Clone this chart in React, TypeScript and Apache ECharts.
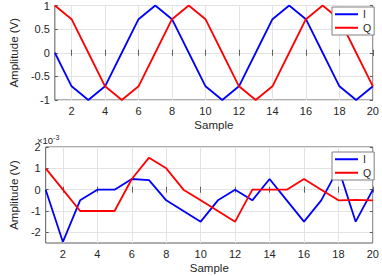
import React, { useEffect, useRef } from "react";
import * as echarts from "echarts";

// Sample index (x axis)
const samples = ["1", "2", "3", "4", "5", "6", "7", "8", "9", "10", "11", "12", "13", "14", "15", "16", "17", "18", "19", "20"];

// Top plot: I / Q amplitude (V)
const topI = [0, -0.71, -1, -0.71, 0, 0.71, 1, 0.71, 0, -0.71, -1, -0.71, 0, 0.71, 1, 0.71, 0, -0.71, -1, -0.71];
const topQ = [1, 0.71, 0, -0.71, -1, -0.71, 0, 0.71, 1, 0.71, 0, -0.71, -1, -0.71, 0, 0.71, 1, 0.71, 0, -0.71];

// Bottom plot: I / Q amplitude in units of 1e-3 V
const bottomI = [0, -2.45, -0.5, 0, 0, 0.5, 0.45, -0.5, -1, -1.5, -0.5, 0, -0.5, 0.5, -0.5, -1.5, -0.5, 1, -1.5, 0];
const bottomQ = [1, 0, -1, -1, -1, 0.5, 1.5, 1, 0, -0.5, -1, -1.5, 0, 0, 0, 0.5, 0, -0.5, -0.48, -0.5];

const topYTicks = [-1, -0.5, 0, 0.5, 1];
const bottomYTicks = [-2, -1, 0, 1, 2];
const legendNames = ["I", "Q"];

const FONT = "'Liberation Sans', Arial, Helvetica, sans-serif";
const TEXT = "#262626";
const GRIDLINE = "#e3e3e3";
const BOX = "#5a5a5a";
const BLUE = "#0000ff";
const RED = "#ff0000";

const evenTick = (idx: number) => idx % 2 === 1;

function xAxes(gridIndex: number) {
  return [
    {
      type: "category",
      gridIndex,
      data: samples,
      boundaryGap: false,
      axisLine: { show: false },
      axisTick: { show: true, inside: true, length: 3, interval: evenTick, lineStyle: { color: BOX } },
      axisLabel: { interval: evenTick, margin: 5, fontSize: 11, color: TEXT, fontFamily: FONT },
      splitLine: { show: true, interval: evenTick, lineStyle: { color: GRIDLINE, width: 1 } },
      name: "Sample",
      nameLocation: "middle",
      nameGap: 19,
      nameTextStyle: { fontSize: 11.5, color: TEXT, fontFamily: FONT },
    },
    {
      type: "category",
      gridIndex,
      data: samples,
      boundaryGap: false,
      position: "top",
      axisLine: { show: false },
      axisTick: { show: true, inside: true, length: 3, interval: evenTick, lineStyle: { color: BOX } },
      axisLabel: { show: false },
      splitLine: { show: false },
    },
  ];
}

function yAxes(gridIndex: number, min: number, max: number, ticks: number[]) {
  return [
    {
      type: "value",
      gridIndex,
      min,
      max,
      axisLine: { show: false },
      axisTick: { show: true, inside: true, length: 3, customValues: ticks, lineStyle: { color: BOX } },
      axisLabel: { customValues: ticks, margin: 5, fontSize: 11, color: TEXT, fontFamily: FONT },
      splitLine: { show: true, lineStyle: { color: GRIDLINE, width: 1 } },
      name: "Amplitude (V)",
      nameLocation: "middle",
      nameGap: 24,
      nameTextStyle: { fontSize: 11.5, color: TEXT, fontFamily: FONT },
    },
    {
      type: "value",
      gridIndex,
      min,
      max,
      position: "right",
      axisLine: { show: false },
      axisTick: { show: true, inside: true, length: 3, customValues: ticks, lineStyle: { color: BOX } },
      axisLabel: { show: false },
      splitLine: { show: false },
    },
  ];
}

function lineSeries(name: string, data: number[], color: string, axisIndex: number) {
  return {
    type: "line",
    name,
    data,
    xAxisIndex: axisIndex,
    yAxisIndex: axisIndex,
    symbol: "none",
    lineStyle: { color, width: 1.8 },
    itemStyle: { color },
    z: 3,
  };
}

function legend(top: number) {
  return {
    data: legendNames,
    left: 332,
    top,
    orient: "vertical",
    icon: "rect",
    itemWidth: 23,
    itemHeight: 2,
    itemGap: 1,
    itemTextGap: 4,
    padding: [1, 3, 1, 3],
    backgroundColor: "#ffffff",
    borderColor: "#7f7f7f",
    borderWidth: 1,
    borderRadius: 0,
    selectedMode: false,
    textStyle: { fontSize: 10.5, lineHeight: 12.5, color: TEXT, fontFamily: FONT },
  };
}

export default function App() {
  const ref = useRef<HTMLDivElement>(null);
  useEffect(() => {
    const chart = echarts.init(ref.current!, null, { renderer: "svg" });
    const option: any = {
      animation: false,
      backgroundColor: "#ffffff",
      grid: [
        { left: 36, top: 3, width: 340, height: 97, show: true, borderColor: BOX, borderWidth: 1, backgroundColor: "transparent" },
        { left: 36, top: 147, width: 340, height: 96, show: true, borderColor: BOX, borderWidth: 1, backgroundColor: "transparent" },
      ],
      xAxis: [...xAxes(0), ...xAxes(1)],
      yAxis: [...yAxes(0, -1, 1, topYTicks), ...yAxes(1, -2.5, 2, bottomYTicks)],
      legend: [legend(7), legend(152)],
      series: [
        lineSeries("I", topI, BLUE, 0),
        lineSeries("Q", topQ, RED, 0),
        lineSeries("I", bottomI, BLUE, 2),
        lineSeries("Q", bottomQ, RED, 2),
      ],
      graphic: [
        {
          type: "text",
          x: 37,
          y: 133.5,
          style: {
            text: "{a|×10}{b|-3}",
            fontFamily: FONT,
            fill: TEXT,
            rich: {
              a: { fontSize: 9.5, lineHeight: 12, verticalAlign: "bottom", fontFamily: FONT, fill: TEXT },
              b: { fontSize: 7, lineHeight: 12, verticalAlign: "top", fontFamily: FONT, fill: TEXT },
            },
          },
        },
      ],
    };
    chart.setOption(option);
    return () => chart.dispose();
  }, []);
  return <div ref={ref} style={{ position: "fixed", left: 0, top: 0, width: 382, height: 276 }} />;
}
